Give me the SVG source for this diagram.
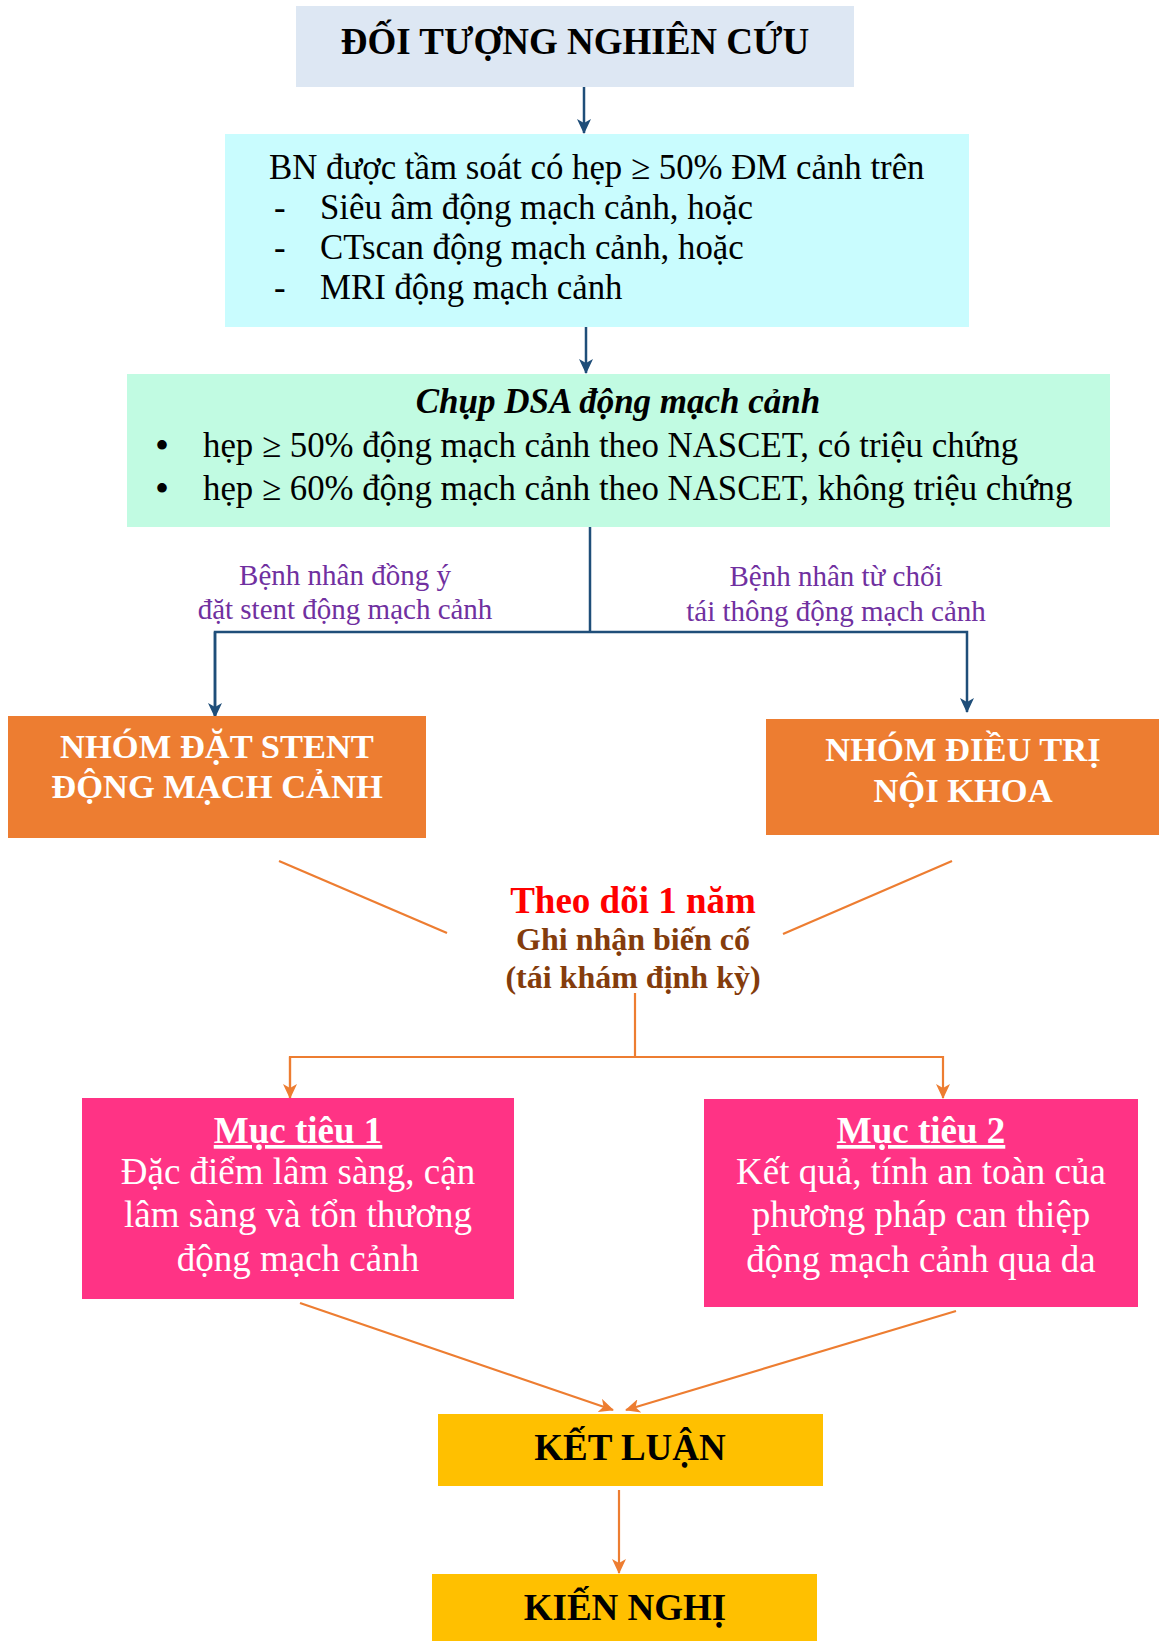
<svg xmlns="http://www.w3.org/2000/svg" width="1159" height="1641" viewBox="0 0 1159 1641">
<style>
text{font-family:"Liberation Serif","Times New Roman",serif;}
.c{text-anchor:middle;}
.b{font-weight:bold;}
.t34{font-size:34.8px;fill:#000;}
.bul{font-size:40px;fill:#000;}
.lbl{font-size:29px;fill:#7030a0;text-anchor:middle;}
.grp{font-size:34.5px;font-weight:bold;fill:#fff;text-anchor:middle;}
.goal{font-size:37px;fill:#fff;text-anchor:middle;}
.blue{stroke:#1f4e79;stroke-width:2.5;fill:none;}
.orng{stroke:#ed7d31;stroke-width:2.2;fill:none;}
</style>
<defs>
<marker id="ab" markerUnits="userSpaceOnUse" markerWidth="16" markerHeight="14" refX="14" refY="7" orient="auto">
<path d="M0,0 L15,7 L0,14 L4,7 z" fill="#1f4e79"/>
</marker>
<marker id="ao" markerUnits="userSpaceOnUse" markerWidth="16" markerHeight="14" refX="14" refY="7" orient="auto">
<path d="M0,0 L15,7 L0,14 L4,7 z" fill="#ed7d31"/>
</marker>
</defs>

<g id="connectors">
<line class="blue" x1="584" y1="87" x2="584" y2="133" marker-end="url(#ab)"/>
<line class="blue" x1="586" y1="327" x2="586" y2="373" marker-end="url(#ab)"/>
<polyline class="blue" points="590,527 590,632"/>
<polyline class="blue" points="215,717 215,632 967,632 967,712" marker-end="url(#ab)"/>
<line class="blue" x1="215" y1="632" x2="215" y2="717" marker-end="url(#ab)"/>
<line class="orng" x1="279" y1="861" x2="447" y2="933"/>
<line class="orng" x1="952" y1="861" x2="783" y2="934"/>
<line class="orng" x1="635" y1="993" x2="635" y2="1057"/>
<polyline class="orng" points="290,1098 290,1057 943,1057 943,1098" marker-end="url(#ao)"/>
<line class="orng" x1="290" y1="1057" x2="290" y2="1098" marker-end="url(#ao)"/>
<line class="orng" x1="300" y1="1303" x2="613" y2="1410" marker-end="url(#ao)"/>
<line class="orng" x1="956" y1="1311" x2="626" y2="1410" marker-end="url(#ao)"/>
<line class="orng" x1="619" y1="1490" x2="619" y2="1573" marker-end="url(#ao)"/>
</g>

<g id="labels">
<text class="lbl" x="345" y="585">Bệnh nhân đồng ý</text>
<text class="lbl" x="345" y="619">đặt stent động mạch cảnh</text>
<text class="lbl" x="836" y="586">Bệnh nhân từ chối</text>
<text class="lbl" x="836" y="621">tái thông động mạch cảnh</text>
</g>

<g id="n1">
<rect x="296" y="6" width="558" height="81" fill="#dde7f3"/>
<text class="c b" x="575" y="54" font-size="37">ĐỐI TƯỢNG NGHIÊN CỨU</text>
</g>

<g id="n2">
<rect x="225" y="134" width="744" height="193" fill="#c9fcfe"/>
<text class="t34" x="269" y="179">BN được tầm soát có hẹp ≥ 50% ĐM cảnh trên</text>
<text class="t34" x="274" y="219">-</text>
<text class="t34" x="320" y="219">Siêu âm động mạch cảnh, hoặc</text>
<text class="t34" x="274" y="259">-</text>
<text class="t34" x="320" y="259">CTscan động mạch cảnh, hoặc</text>
<text class="t34" x="274" y="299">-</text>
<text class="t34" x="320" y="299">MRI động mạch cảnh</text>
</g>

<g id="n3">
<rect x="127" y="374" width="983" height="153" fill="#c1fbe2"/>
<text class="c b" x="618" y="413" font-size="35" font-style="italic">Chụp DSA động mạch cảnh</text>
<text class="bul" x="155" y="459">•</text>
<text class="t34" x="203" y="457">hẹp ≥ 50% động mạch cảnh theo NASCET, có triệu chứng</text>
<text class="bul" x="155" y="502">•</text>
<text class="t34" x="203" y="500">hẹp ≥ 60% động mạch cảnh theo NASCET, không triệu chứng</text>
</g>

<g id="n4">
<rect x="8" y="716" width="418" height="122" fill="#ed7d31"/>
<text class="grp" x="217" y="758">NHÓM ĐẶT STENT</text>
<text class="grp" x="217" y="798">ĐỘNG MẠCH CẢNH</text>
</g>

<g id="n5">
<rect x="766" y="719" width="393" height="116" fill="#ed7d31"/>
<text class="grp" x="963" y="761">NHÓM ĐIỀU TRỊ</text>
<text class="grp" x="963" y="802">NỘI KHOA</text>
</g>

<g id="n6">
<text class="c b" x="633" y="913" font-size="37" fill="#ff0000">Theo dõi 1 năm</text>
<text class="c b" x="633" y="950" font-size="32" fill="#843c0c">Ghi nhận biến cố</text>
<text class="c b" x="633" y="988" font-size="32" fill="#843c0c">(tái khám định kỳ)</text>
</g>

<g id="n7">
<rect x="82" y="1098" width="432" height="201" fill="#ff3385"/>
<text class="goal b" x="298" y="1143" text-decoration="underline">Mục tiêu 1</text>
<text class="goal" x="298" y="1184">Đặc điểm lâm sàng, cận</text>
<text class="goal" x="298" y="1227">lâm sàng và tổn thương</text>
<text class="goal" x="298" y="1271">động mạch cảnh</text>
</g>

<g id="n8">
<rect x="704" y="1099" width="434" height="208" fill="#ff3385"/>
<text class="goal b" x="921" y="1143" text-decoration="underline">Mục tiêu 2</text>
<text class="goal" x="921" y="1184">Kết quả, tính an toàn của</text>
<text class="goal" x="921" y="1227">phương pháp can thiệp</text>
<text class="goal" x="921" y="1272">động mạch cảnh qua da</text>
</g>

<g id="n9">
<rect x="438" y="1414" width="385" height="72" fill="#ffc000"/>
<text class="c b" x="630" y="1460" font-size="37">KẾT LUẬN</text>
</g>

<g id="n10">
<rect x="432" y="1574" width="385" height="67" fill="#ffc000"/>
<text class="c b" x="625" y="1620" font-size="37">KIẾN NGHỊ</text>
</g>
</svg>
